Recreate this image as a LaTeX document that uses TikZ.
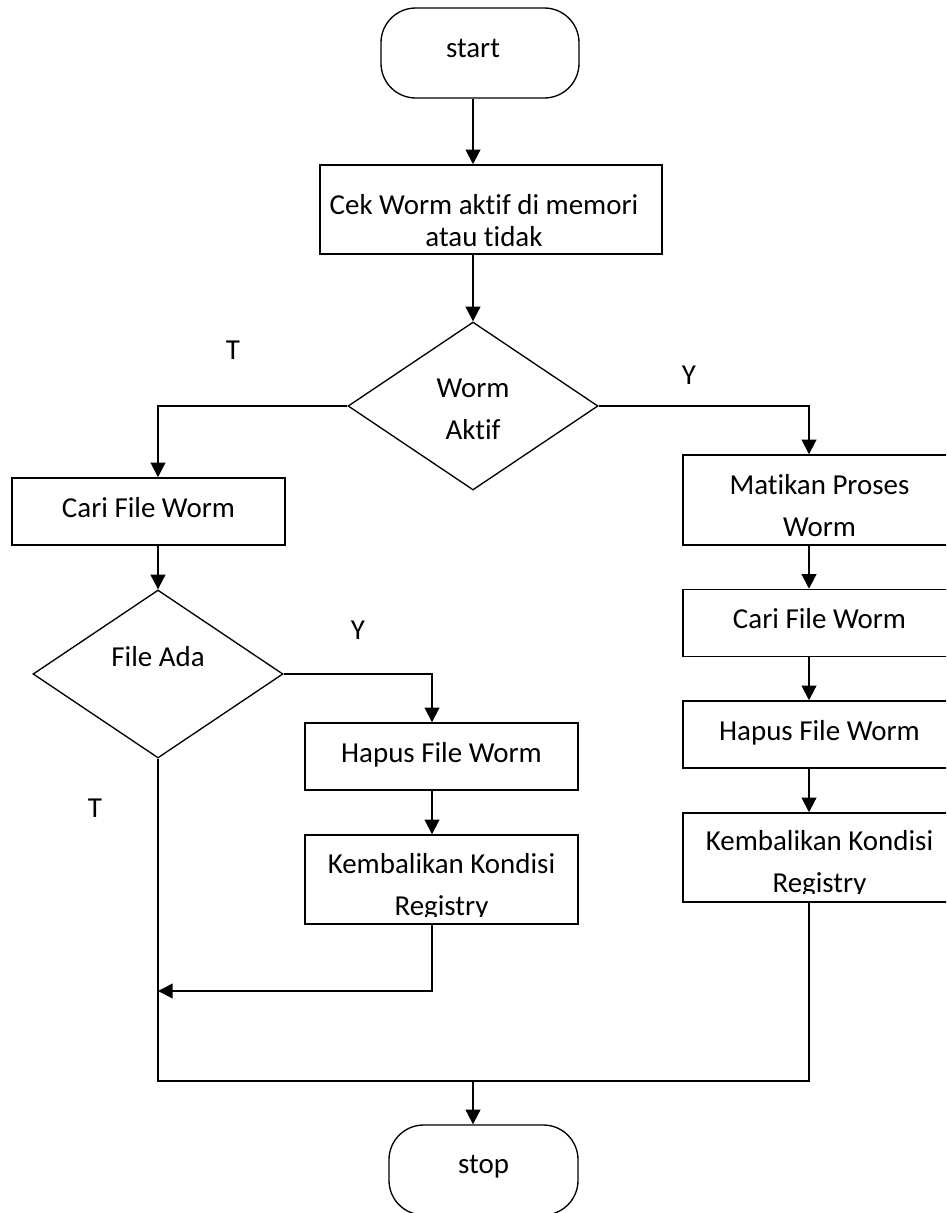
\documentclass[tikz,border=0pt]{standalone}
\usepackage{fontspec}
\setmainfont{Carlito}[Ligatures=NoCommon]
\usetikzlibrary{shapes.geometric,arrows.meta,calc}

% two centred lines; the block's baseline is that of its first line
\newcommand\twolines[2]{\begin{tabular}[t]{@{}c@{}}#1\\#2\end{tabular}}

\tikzset{
  textstyle/.style={font=\fontsize{21.7pt}{31.5pt}\selectfont, inner sep=0pt},
  procbox/.style={textstyle, draw, line width=1.1pt, rectangle, minimum width=204.75pt},
  oneline/.style={text height=29.25pt, text depth=21pt},
  termbox/.style={textstyle, draw, line width=1pt, rectangle, rounded corners=26pt},
  decbox/.style={textstyle, draw, line width=1pt, diamond, minimum width=187.5pt, minimum height=126pt},
  flow/.style={line width=1.5pt, -{Triangle[length=11pt,width=11pt]}},
  wire/.style={line width=1.5pt},
  branchtag/.style={textstyle},
  % text set from the top of the box and cut off a little above its lower edge
  % #1: name, #2: drop of first baseline (px), #3: gap kept free at the bottom (px)
  cuttext/.style n args={3}{path picture={
      \clip ($(path picture bounding box.south west)+(0,-#3)$)
        rectangle (path picture bounding box.north east);
      \node[textstyle, anchor=base] (#1)
        at ($(path picture bounding box.north)+(0,#2)$)
        {\twolines{Kembalikan Kondisi}{Registry}};}},
}

\begin{document}
\begin{tikzpicture}[x=0.75pt, y=-0.75pt]
\useasboundingbox (0,0) rectangle (946,1213);
\clip (0,0) rectangle (946,1213);

% terminals
\node[termbox, minimum width=148.5pt, text height=37.5pt, text depth=30pt]
  (start) at (480,53) {start\hspace*{10.5pt}};
\node[termbox, minimum width=141.75pt, text height=36pt, text depth=31.5pt]
  (stop) at (483.5,1170) {stop};

% first check
\node[procbox, minimum width=256.5pt, text height=36.75pt, text depth=30pt,
      font=\fontsize{21.7pt}{24pt}\selectfont]
  (check) at (491,209.5) {\twolines{Cek Worm aktif di memori}{atau tidak}\hspace*{10.5pt}};
\node[decbox, text height=22.5pt, text depth=36pt]
  (active) at (473,406) {\twolines{Worm}{Aktif}};

% left branch: worm not active
\node[procbox, oneline] (findL) at (148.5,511.5) {Cari File Worm};
\node[decbox, text height=18.75pt, text depth=29.7pt] (exists) at (158,674) {File Ada};
\node[procbox, oneline] (delL) at (441.5,756.5) {Hapus File Worm};
\node[procbox, minimum height=66.75pt, cuttext={restoreLtext}{38}{8}]
  (restoreL) at (441.5,879.5) {};

% right branch: worm active
\node[procbox, text height=29.25pt, text depth=38.25pt]
  (kill) at (819.5,500) {\twolines{Matikan Proses}{Worm}};
\node[procbox, oneline] (findR) at (819.5,623) {Cari File Worm};
\node[procbox, oneline] (delR) at (819.5,734.5) {Hapus File Worm};
\node[procbox, minimum height=66.75pt, cuttext={restoreRtext}{37}{9}]
  (restoreR) at (819.5,857.5) {};

% branch labels
\node[branchtag] (noA) at (233,350) {T};
\node[branchtag] (yesA) at (689,375) {Y};
\node[branchtag] (yesB) at (358,630) {Y};
\node[branchtag] (noB) at (95,808) {T};

% routing points
\coordinate (colR) at (809,406);
\coordinate (colM) at (432,674);
\coordinate (ret) at (158,991);
\coordinate (bus) at (473,1081);

% connectors
\draw[flow] (start.south -| active.north) -- (check.north -| active.north);
\draw[flow] (check.south -| active.north) -- (active.north);
\draw[flow] (active.west) -| (exists.north |- findL.north);
\draw[flow] (active.east) -| (colR |- kill.north);
\draw[flow] (findL.south -| exists.north) -- (exists.north);
\draw[flow] (exists.east) -| (colM |- delL.north);
\draw[flow] (delL.south -| colM) -- (colM |- restoreL.north);
\draw[flow] (restoreL.south -| colM) |- (ret);
\draw[flow] (kill.south -| colR) -- (colR |- findR.north);
\draw[flow] (findR.south -| colR) -- (colR |- delR.north);
\draw[flow] (delR.south -| colR) -- (colR |- restoreR.north);
\draw[wire] (exists.south) |- (bus) -| (restoreR.south -| colR);
\draw[flow] (bus) -- (stop.north -| bus);
\end{tikzpicture}
\end{document}
